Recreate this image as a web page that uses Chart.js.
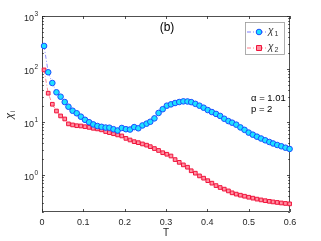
<!DOCTYPE html>
<html>
<head>
<meta charset="utf-8">
<script src="https://cdn.jsdelivr.net/npm/chart.js@4"></script>
<style>
  html, body { margin: 0; padding: 0; background: #fff; }
  canvas { display: block; }
</style>
</head>
<body>
<canvas id="chi-chart" width="321" height="241"></canvas>
<script>
// temperatures (one point per sample)
const temps = [0.005,0.015,0.025,0.035,0.045,0.055,0.064,0.074,0.084,0.094,
  0.104,0.114,0.124,0.134,0.144,0.154,0.163,0.173,0.183,0.193,
  0.203,0.213,0.223,0.233,0.243,0.253,0.262,0.272,0.282,0.292,
  0.302,0.312,0.322,0.332,0.342,0.352,0.361,0.371,0.381,0.391,
  0.401,0.411,0.421,0.431,0.441,0.451,0.460,0.470,0.480,0.490,
  0.500,0.510,0.520,0.530,0.540,0.550,0.559,0.569,0.579,0.589,0.599];

const chi1 = [272,86.7,54.4,36.3,30.0,23.8,19.4,16.3,14.6,12.6,
  11.0,9.9,9.0,8.4,8.1,7.85,7.8,7.3,6.9,7.7,
  7.3,7.2,8.0,7.6,8.6,9.3,10.1,11.7,14.8,17.4,
  20.3,21.5,22.8,23.8,24.5,24.4,23.7,22.0,20.3,18.6,
  16.8,15.4,14.2,13.0,11.5,10.4,9.7,8.9,7.9,7.1,
  6.3,5.76,5.28,4.88,4.51,4.19,3.93,3.68,3.48,3.27,3.1];

const chi2 = [96,34.9,21.6,16.1,13.0,11.4,9.2,8.8,8.5,8.4,
  8.15,7.9,7.6,7.4,7.1,6.6,6.3,6.0,5.7,5.45,
  4.9,4.57,4.25,4.07,3.85,3.65,3.42,3.15,2.9,2.63,
  2.46,2.28,1.95,1.73,1.55,1.40,1.2,1.08,0.96,0.87,
  0.78,0.70,0.63,0.58,0.54,0.50,0.46,0.435,0.415,0.397,
  0.38,0.365,0.35,0.338,0.327,0.318,0.31,0.303,0.296,0.29,0.285];

const xTicks = [0, 0.1, 0.2, 0.3, 0.4, 0.5, 0.6];
const yPowers = [0, 1, 2, 3];

const FONT = "'Liberation Sans', Arial, sans-serif";
const AXIS = '#262626';

function pts(ys) {
  return temps.map((t, i) => ({ x: t, y: ys[i] }));
}

// frame + inward ticks, drawn under the data
const framePlugin = {
  id: 'frame',
  beforeDatasetsDraw(chart) {
    const ctx = chart.ctx;
    const a = chart.chartArea;
    const xs = chart.scales.x, ys = chart.scales.y;
    ctx.save();
    ctx.strokeStyle = AXIS;
    ctx.lineWidth = 0.8;
    ctx.strokeRect(a.left + 0.5, a.top + 0.5, a.right - a.left - 1, a.bottom - a.top - 1);
    ctx.beginPath();
    xTicks.forEach(v => {
      const px = Math.round(xs.getPixelForValue(v)) + 0.5;
      ctx.moveTo(px, a.bottom); ctx.lineTo(px, a.bottom - 3);
      ctx.moveTo(px, a.top); ctx.lineTo(px, a.top + 3);
    });
    for (let p = -1; p <= 3; p++) {
      for (let m = 1; m <= 9; m++) {
        const v = m * Math.pow(10, p);
        if (v < ys.min || v > ys.max) continue;
        const py = Math.round(ys.getPixelForValue(v)) + 0.5;
        const len = m === 1 ? 3 : 1.8;
        ctx.moveTo(a.left, py); ctx.lineTo(a.left + len, py);
        ctx.moveTo(a.right, py); ctx.lineTo(a.right - len, py);
      }
    }
    ctx.stroke();
    ctx.restore();
  },
  afterDraw(chart) {
    const ctx = chart.ctx;
    const a = chart.chartArea;
    const ys = chart.scales.y;
    ctx.save();
    ctx.fillStyle = AXIS;

    // y tick labels 10^k
    yPowers.forEach(p => {
      const py = ys.getPixelForValue(Math.pow(10, p));
      ctx.font = '9px ' + FONT;
      ctx.textAlign = 'right';
      ctx.textBaseline = 'middle';
      ctx.fillText('10', 34, py + 3);
      ctx.font = '6.5px ' + FONT;
      ctx.textAlign = 'left';
      ctx.fillText(String(p), 34.5, py - 2);
    });

    // x title
    ctx.font = '10px ' + FONT;
    ctx.textAlign = 'center';
    ctx.textBaseline = 'middle';
    ctx.fillText('T', (a.left + a.right) / 2, 233);

    // y title chi_i
    ctx.save();
    ctx.translate(10, (a.top + a.bottom) / 2);
    ctx.rotate(-Math.PI / 2);
    ctx.font = 'italic 11px ' + FONT;
    ctx.textAlign = 'right';
    ctx.fillText('χ', 1, 0);
    ctx.font = '7px ' + FONT;
    ctx.textAlign = 'left';
    ctx.fillText('i', 1.5, 3);
    ctx.restore();

    // panel tag and parameters
    ctx.fillStyle = '#000';
    ctx.font = '12px ' + FONT;
    ctx.textAlign = 'center';
    ctx.fillText('(b)', 167, 28);
    ctx.font = '9.5px ' + FONT;
    ctx.textAlign = 'left';
    ctx.fillText('α = 1.01', 251, 98);
    ctx.fillText('p = 2', 251, 109);

    // legend box
    ctx.fillStyle = '#fff';
    ctx.fillRect(245.5, 22.5, 39, 32);
    ctx.strokeStyle = '#999';
    ctx.lineWidth = 0.8;
    ctx.strokeRect(245.5, 22.5, 39, 32);
    const items = chart.data.datasets;
    items.forEach((ds, i) => {
      const y = 32 + i * 16;
      ctx.strokeStyle = ds.borderColor;
      ctx.lineWidth = 0.8;
      ctx.setLineDash(ds.borderDash);
      ctx.beginPath();
      ctx.moveTo(247, y); ctx.lineTo(266, y);
      ctx.stroke();
      ctx.setLineDash([]);
      ctx.fillStyle = ds.pointBackgroundColor;
      ctx.strokeStyle = ds.pointBorderColor;
      ctx.lineWidth = 1;
      ctx.beginPath();
      if (ds.pointStyle === 'rect') {
        ctx.rect(256.5, y - 2.5, 5, 5);
      } else {
        ctx.arc(259, y, 2.8, 0, Math.PI * 2);
      }
      ctx.fill(); ctx.stroke();
      ctx.fillStyle = '#333';
      ctx.font = 'italic 10px ' + FONT;
      ctx.textAlign = 'left';
      ctx.fillText('χ', 268, y - 1);
      ctx.font = '7px ' + FONT;
      ctx.fillText(String(i + 1), 274.5, y + 2.5);
    });
    ctx.restore();
  }
};

const ctx = document.getElementById('chi-chart').getContext('2d');
const chart = new Chart(ctx, {
  type: 'line',
  data: {
    datasets: [
      {
        label: 'χ1',
        data: pts(chi1),
        borderColor: '#5b5bff',
        borderWidth: 0.7,
        borderDash: [4, 2, 1, 2],
        pointStyle: 'circle',
        pointRadius: 2.8,
        pointBackgroundColor: '#1ee0ff',
        pointBorderColor: '#1a4dff',
        pointBorderWidth: 1,
        clip: false
      },
      {
        label: 'χ2',
        data: pts(chi2),
        borderColor: '#ff5a6a',
        borderWidth: 0.7,
        borderDash: [4, 2, 1, 2],
        pointStyle: 'rect',
        pointRadius: 2.6,
        pointBackgroundColor: '#ff8fa0',
        pointBorderColor: '#f0143c',
        pointBorderWidth: 1,
        clip: false
      }
    ]
  },
  options: {
    responsive: false,
    devicePixelRatio: 1,
    animation: false,
    layout: { padding: { top: 16, right: 31, left: 0, bottom: 0 } },
    plugins: {
      legend: { display: false },
      tooltip: { enabled: false }
    },
    scales: {
      x: {
        type: 'linear',
        min: 0,
        max: 0.6,
        afterBuildTicks: s => { s.ticks = xTicks.map(v => ({ value: v })); },
        afterFit: s => { s.height = 29; },
        grid: { display: false, drawTicks: false },
        border: { display: false },
        ticks: {
          padding: 5,
          color: AXIS,
          font: { family: FONT, size: 9 },
          maxRotation: 0,
          callback: v => String(+v.toFixed(1))
        }
      },
      y: {
        type: 'logarithmic',
        min: 0.2,
        max: 1000,
        afterFit: s => { s.width = 42; },
        grid: { display: false, drawTicks: false },
        border: { display: false },
        ticks: { display: false }
      }
    }
  },
  plugins: [framePlugin]
});
</script>
</body>
</html>
